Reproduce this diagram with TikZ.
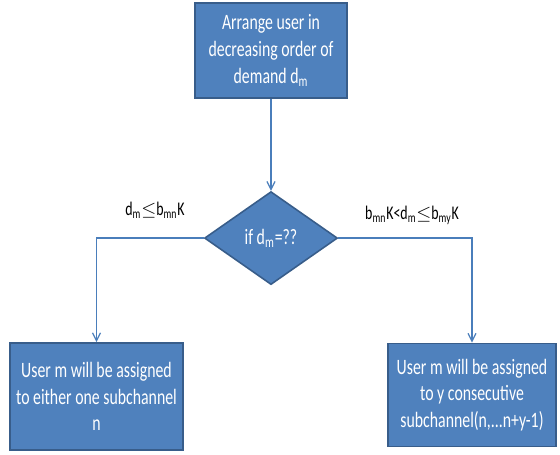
\documentclass[tikz,border=0pt]{standalone}
\usepackage{fontspec}
\setmainfont{Carlito}[FakeStretch=0.72]
\usetikzlibrary{shapes.geometric, arrows.meta, positioning}
\definecolor{azulCaja}{HTML}{4F81BD}
\definecolor{bordeCaja}{HTML}{385D8A}
\definecolor{lineaFlujo}{HTML}{4A7EBB}

\begin{document}
\begin{tikzpicture}[
        font=\fontsize{12.5}{15.2}\selectfont,
        caja/.style={draw=bordeCaja, fill=azulCaja, text=white, line width=0.9pt,
            align=center, inner sep=2pt},
        decision/.style={diamond, draw=bordeCaja, fill=azulCaja, text=white, line width=0.9pt,
            minimum width=2.66cm, minimum height=1.86cm, inner sep=0pt, align=center},
        etiqueta/.style={font=\fontsize{11}{13}\selectfont, inner sep=1pt},
        flujo/.style={-{Straight Barb[length=1.6mm, width=1.6mm]}, lineaFlujo, line width=0.7pt}
    ]
        \useasboundingbox (0,0) rectangle (11.2,-9.08);
        \node[caja, minimum width=3.04cm, minimum height=1.9cm] (orden) at (5.42,-1.01)
            {Arrange user in\\decreasing order of\\demand d\textsubscript{m}};
        \node[decision, below=1.84cm of orden] (cond) {if d\textsubscript{m}=??};
        \node[caja, minimum width=3.46cm, minimum height=2.14cm] (unoSub) at (1.93,-7.93)
            {User m will be assigned\\to either one subchannel\\n};
        \node[caja, minimum width=3.36cm, minimum height=2.06cm] (variosSub) at (9.44,-7.9)
            {User m will be assigned\\to y consecutive\\subchannel(n,...n+y-1)};

        \node[etiqueta] (condIzq) at (3.1,-4.2) {d\textsubscript{m}$\leq$b\textsubscript{mn}K};
        \node[etiqueta] (condDer) at (8.24,-4.3) {b\textsubscript{mn}K<d\textsubscript{m}$\leq$b\textsubscript{my}K};

        \draw[flujo] (orden) -- (cond);
        \draw[flujo] (cond.west) -| (unoSub.north);
        \draw[flujo] (cond.east) -| (variosSub.north);
    \end{tikzpicture}
\end{document}
